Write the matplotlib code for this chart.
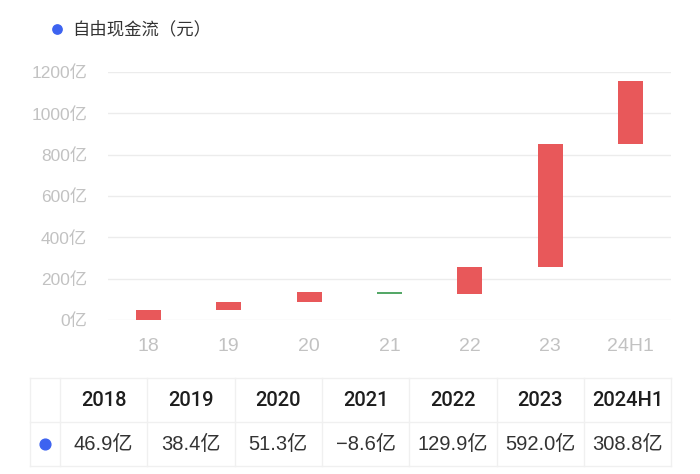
import numpy as np
import matplotlib
matplotlib.use("Agg")
import matplotlib.pyplot as plt
from matplotlib.lines import Line2D

plt.rcParams["font.family"] = ["Liberation Sans", "Noto Sans CJK SC", "DejaVu Sans"]

# data
short_labels = ["18", "19", "20", "21", "22", "23", "24H1"]
years = ["2018", "2019", "2020", "2021", "2022", "2023", "2024H1"]
fcf = [46.9, 38.4, 51.3, -8.6, 129.9, 592.0, 308.8]  # 亿元
y_ticks = [0, 200, 400, 600, 800, 1000, 1200]

RED = "#e8585a"
GREEN = "#55a868"
BLUE = "#3d63f0"
GRID = "#ececec"
TICK = "#c2c2c2"
TEXT = "#333333"

W, H = 700, 474
fig = plt.figure(figsize=(W / 100, H / 100), dpi=100)

# waterfall axes
left, right, top, bottom = 108, 671, 72, 320
ax = fig.add_axes([left / W, 1 - bottom / H, (right - left) / W, (bottom - top) / H])
x = np.arange(len(fcf))
ends = np.cumsum(fcf)
starts = ends - np.array(fcf)
colors = [RED if v >= 0 else GREEN for v in fcf]
ax.bar(x, np.array(fcf), bottom=starts, width=0.31, color=colors, zorder=3)
ax.set_xlim(-0.5, len(fcf) - 0.5)
ax.set_ylim(0, 1200)
ax.set_yticks(y_ticks)
ax.set_yticklabels([f"{t}亿" for t in y_ticks])
ax.set_xticks(x)
ax.set_xticklabels(short_labels)
ax.grid(axis="y", color=GRID, linewidth=1, zorder=0)
for s in ax.spines.values():
    s.set_visible(False)
ax.tick_params(axis="y", length=0, pad=15, labelsize=12.5, labelcolor=TICK)
ax.tick_params(axis="x", length=0, pad=13, labelsize=14, labelcolor=TICK)

# overlay axes in pixel coords for legend + table
tab = fig.add_axes([0, 0, 1, 1])
tab.set_xlim(0, W)
tab.set_ylim(H, 0)
tab.axis("off")

# legend title
tab.scatter([57], [29], s=45, color=BLUE, zorder=3)
tab.text(72, 29, "自由现金流（元）", fontsize=12.5, color=TEXT,
         va="center", ha="left", family=["Noto Sans CJK SC"])

# table
col_edges = [30, 60] + [60 + 87.3 * (i + 1) for i in range(len(years))]
row_edges = [378, 422, 466]
for xe in col_edges:
    tab.add_line(Line2D([xe, xe], [row_edges[0], row_edges[-1]], color="#f0f0f0", lw=1))
for ye in row_edges:
    tab.add_line(Line2D([col_edges[0], col_edges[-1]], [ye, ye], color="#f0f0f0", lw=1))
hy = (row_edges[0] + row_edges[1]) / 2
vy = (row_edges[1] + row_edges[2]) / 2
tab.scatter([(col_edges[0] + col_edges[1]) / 2], [vy], s=60, color=BLUE, zorder=3)
for i, (yr, v) in enumerate(zip(years, fcf)):
    cx = (col_edges[i + 1] + col_edges[i + 2]) / 2
    tab.text(cx, hy, yr, ha="center", va="center", fontsize=14.5, color="#1e1e1e",
             family=["Roboto", "Liberation Sans"], fontweight="medium")
    s = f"{v:.1f}亿".replace("-", "−")
    tab.text(cx, vy, s, ha="center", va="center", fontsize=14.5, color=TEXT)

fig.savefig("out.png", dpi=100, facecolor="white")
